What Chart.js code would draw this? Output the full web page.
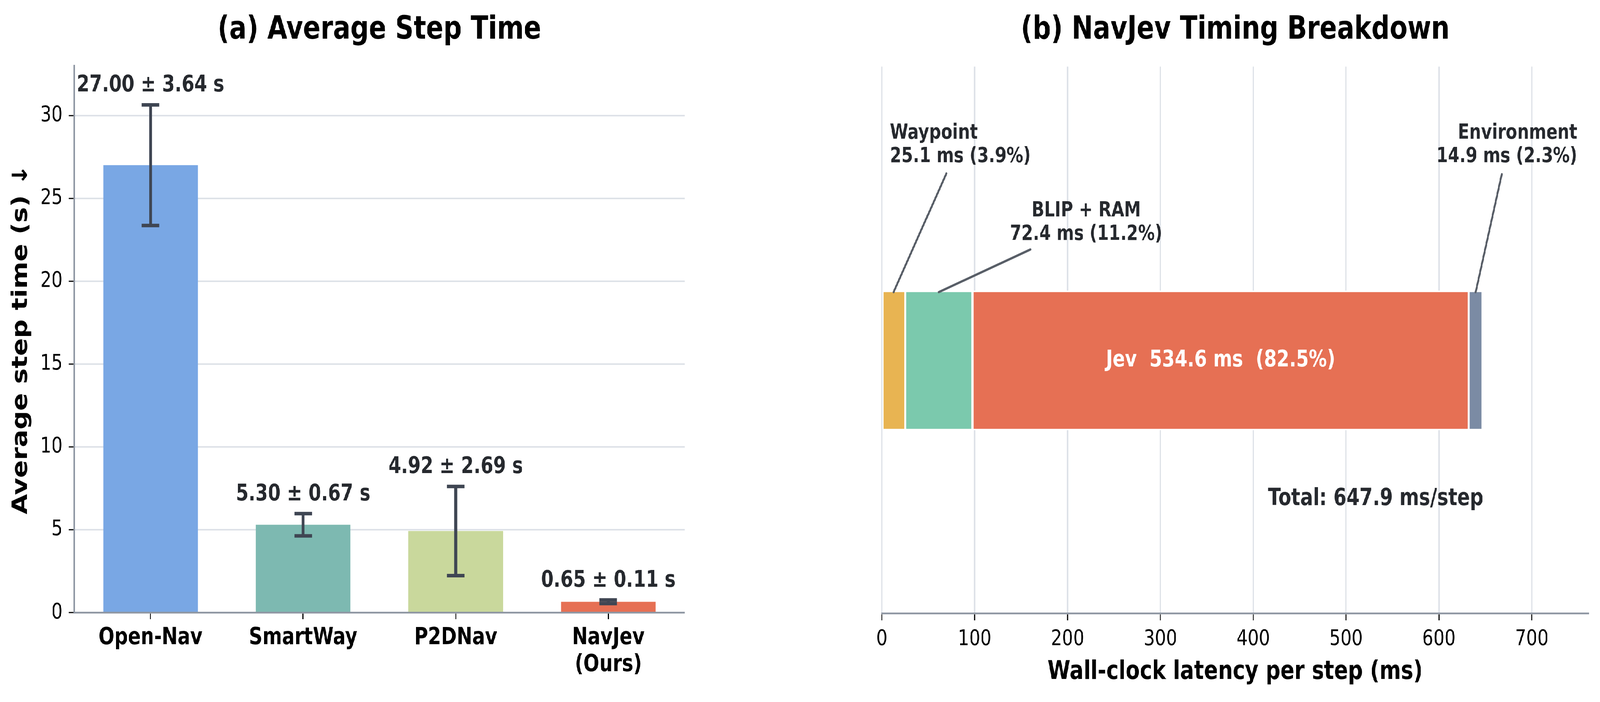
<!DOCTYPE html>
<html>
<head>
<meta charset="utf-8">
<script src="https://cdn.jsdelivr.net/npm/chart.js@4.4.1/dist/chart.umd.min.js"></script>
<style>
  html, body { margin: 0; padding: 0; background: #fff; overflow: hidden; }
  #outer { position: relative; overflow: hidden; background: #fff; }
  #wrap { position: absolute; left: 0; top: 0; width: 5109px; height: 1797px; background: #fff; transform-origin: 0 0; }
  canvas { position: absolute; top: 0; }
</style>
</head>
<body>
<div id="outer">
  <div id="wrap">
    <canvas id="step-chart" width="2500" height="1797" style="left:0"></canvas>
    <canvas id="breakdown-chart" width="2609" height="1797" style="left:2500px"></canvas>
  </div>
</div>
<script>
// (a) average step time per method
const methods = ['Open-Nav', 'SmartWay', 'P2DNav', ['NavJev', '(Ours)']];
const stepMean = [27.00, 5.30, 4.92, 0.65];
const stepStd = [3.64, 0.67, 2.69, 0.11];
const methodColors = ['#79a7e4', '#7db9b1', '#c9d89c', '#e67054'];

// (b) NavJev timing breakdown, ms per step
const stages = ['Waypoint', 'BLIP + RAM', 'Jev', 'Environment'];
const stageMs = [25.1, 72.4, 534.6, 14.9];
const stageColors = ['#e8b452', '#7bc9ad', '#e67054', '#7b8ba4'];
const totalMs = 647.9;

const FONT = "'DejaVu Sans', sans-serif";
const INK = '#26292e';
const GRID = '#dee2e8';
const SPINE = '#8f97a3';

// figure is laid out at 5109x1797; stretch it onto the window we actually get
const W = 5109, H = 1797;
const fx = (window.innerWidth || W) / W;
const fy = (window.innerHeight || H) / H;
const outer = document.getElementById('outer');
outer.style.width = (W * fx) + 'px';
outer.style.height = (H * fy) + 'px';
document.getElementById('wrap').style.transform = 'scale(' + fx + ',' + fy + ')';

Chart.defaults.font.family = FONT;
Chart.defaults.color = '#000';

// error bars and "mean ± std" labels
const errorBars = {
  id: 'errorBars',
  afterDatasetsDraw(chart) {
    const { ctx, scales: { x, y } } = chart;
    ctx.save();
    ctx.strokeStyle = '#3f4653';
    ctx.lineWidth = 9;
    ctx.fillStyle = INK;
    ctx.font = 'bold 58px ' + FONT;
    ctx.textAlign = 'center';
    ctx.textBaseline = 'alphabetic';
    stepMean.forEach((m, i) => {
      const cx = x.getPixelForValue(i);
      const lo = y.getPixelForValue(m - stepStd[i]);
      const hi = y.getPixelForValue(m + stepStd[i]);
      ctx.beginPath();
      ctx.moveTo(cx, lo); ctx.lineTo(cx, hi);
      ctx.moveTo(cx - 28, lo); ctx.lineTo(cx + 28, lo);
      ctx.moveTo(cx - 28, hi); ctx.lineTo(cx + 28, hi);
      ctx.stroke();
      ctx.fillText(m.toFixed(2) + ' \u00b1 ' + stepStd[i].toFixed(2) + ' s', cx, hi - 34);
    });
    ctx.restore();
  }
};

// callouts for the small segments + labels inside/below the bar
const breakdownLabels = {
  id: 'breakdownLabels',
  afterDatasetsDraw(chart) {
    const { ctx, scales: { x, y } } = chart;
    const starts = [];
    stageMs.reduce((acc, v) => { starts.push(acc); return acc + v; }, 0);
    const mid = i => starts[i] + stageMs[i] / 2;
    const pct = i => (stageMs[i] / totalMs * 100).toFixed(1);

    const callouts = [
      { i: 0, tx: 8.6, ty: 0.811, align: 'left', from: [69.5, 0.684] },
      { i: 1, tx: 220, ty: 0.527, align: 'center', from: [160, 0.406] },
      { i: 3, tx: 749, ty: 0.811, align: 'right', from: [667.7, 0.681] }
    ];

    ctx.save();
    ctx.strokeStyle = '#585e67';
    ctx.lineWidth = 6;
    ctx.lineCap = 'round';
    ctx.fillStyle = INK;
    ctx.font = 'bold 53px ' + FONT;
    ctx.textBaseline = 'alphabetic';
    callouts.forEach(c => {
      ctx.beginPath();
      ctx.moveTo(x.getPixelForValue(c.from[0]), y.getPixelForValue(c.from[1]));
      ctx.lineTo(x.getPixelForValue(mid(c.i)), y.getPixelForValue(0.25));
      ctx.stroke();
      ctx.textAlign = c.align;
      const px = x.getPixelForValue(c.tx);
      const py = y.getPixelForValue(c.ty);
      ctx.fillText(stages[c.i], px, py);
      ctx.fillText(stageMs[c.i].toFixed(1) + ' ms (' + pct(c.i) + '%)', px, py + 60);
    });

    // Jev label inside its segment
    ctx.fillStyle = '#fff';
    ctx.font = 'bold 58px ' + FONT;
    ctx.textAlign = 'center';
    ctx.textBaseline = 'middle';
    ctx.fillText(stages[2] + '  ' + stageMs[2].toFixed(1) + ' ms  (' + pct(2) + '%)',
      x.getPixelForValue(mid(2)), y.getPixelForValue(0));

    // total
    ctx.fillStyle = INK;
    ctx.font = 'bold 60px ' + FONT;
    ctx.textAlign = 'right';
    ctx.fillText('Total: ' + totalMs.toFixed(1) + ' ms/step', x.getPixelForValue(totalMs), y.getPixelForValue(-0.5) + 5);
    ctx.restore();
  }
};

new Chart(document.getElementById('step-chart'), {
  type: 'bar',
  data: {
    labels: methods,
    datasets: [{
      data: stepMean,
      backgroundColor: methodColors,
      barPercentage: 0.62,
      categoryPercentage: 1
    }]
  },
  options: {
    responsive: false,
    animation: false,
    devicePixelRatio: 1,
    layout: { padding: { left: 0, right: 314, top: 0, bottom: 0 } },
    plugins: {
      legend: { display: false },
      tooltip: { enabled: false },
      title: {
        display: true,
        text: '(a) Average Step Time',
        fullSize: false,
        color: '#000',
        font: { size: 82, weight: 'bold' },
        padding: { top: 29, bottom: 41 }
      }
    },
    scales: {
      x: {
        offset: true,
        grid: { drawOnChartArea: false, offset: false, tickLength: 17, tickWidth: 3, tickColor: '#000' },
        border: { color: SPINE, width: 4.5 },
        ticks: { color: '#000', font: { size: 60, weight: 'bold', lineHeight: 1.15 }, padding: 14, maxRotation: 0, autoSkip: false },
        afterFit: s => { s.height = 229; }
      },
      y: {
        min: 0,
        max: 33,
        ticks: { stepSize: 5, includeBounds: false, color: '#000', font: { size: 56 }, padding: 19 },
        grid: { color: GRID, lineWidth: 4, tickColor: '#000', tickWidth: 3, tickLength: 18 },
        border: { color: SPINE, width: 4.5 },
        title: {
          display: true,
          text: 'Average step time (s) \u2193',
          color: '#000',
          font: { size: 67, weight: 'bold' },
          padding: { top: 28, bottom: 0 }
        },
        afterFit: s => { s.width = 237; }
      }
    }
  },
  plugins: [errorBars]
});

new Chart(document.getElementById('breakdown-chart'), {
  type: 'bar',
  data: {
    datasets: stages.map((s, i) => ({
      label: s,
      data: [{ x: stageMs[i], y: 0 }],
      backgroundColor: stageColors[i],
      borderColor: '#fff',
      borderWidth: 3.8,
      borderSkipped: false,
      barThickness: 357
    }))
  },
  options: {
    indexAxis: 'y',
    responsive: false,
    animation: false,
    devicePixelRatio: 1,
    layout: { padding: { left: 316, right: 37, top: 0, bottom: 0 } },
    plugins: {
      legend: { display: false },
      tooltip: { enabled: false },
      title: {
        display: true,
        text: '(b) NavJev Timing Breakdown',
        fullSize: false,
        color: '#000',
        font: { size: 82, weight: 'bold' },
        padding: { top: 29, bottom: 43 }
      }
    },
    scales: {
      x: {
        type: 'linear',
        stacked: true,
        min: 0,
        max: 761,
        ticks: { stepSize: 100, includeBounds: false, color: '#000', font: { size: 56 }, padding: 15 },
        grid: { color: GRID, lineWidth: 4, tickColor: '#000', tickWidth: 3, tickLength: 18 },
        border: { color: SPINE, width: 4.5 },
        title: {
          display: true,
          text: 'Wall-clock latency per step (ms)',
          color: '#000',
          font: { size: 66, weight: 'bold' },
          padding: { top: 0, bottom: 37 }
        },
        afterFit: s => { s.height = 227; }
      },
      y: {
        type: 'linear',
        stacked: true,
        display: false,
        offset: false,
        min: -0.925,
        max: 1.075
      }
    }
  },
  plugins: [breakdownLabels]
});
</script>
</body>
</html>
